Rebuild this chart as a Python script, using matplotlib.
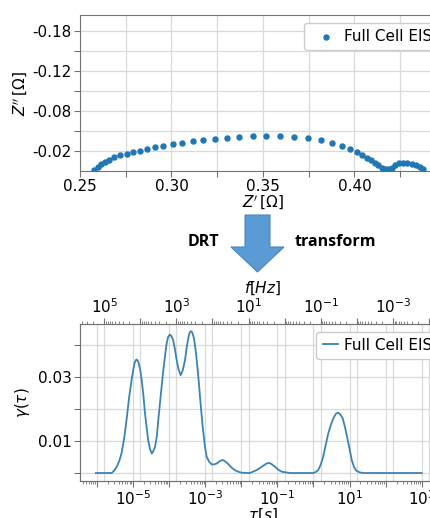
import numpy as np
import matplotlib.pyplot as plt
from matplotlib.patches import FancyArrow
from matplotlib.ticker import FixedLocator, FuncFormatter, LogLocator, NullFormatter

# Nyquist data: Z' and -Z'' [Ohm]
z_re = [0.2578, 0.2597, 0.2615, 0.2637, 0.2661, 0.2688, 0.2721, 0.2756, 0.2792,
        0.2829, 0.2867, 0.2911, 0.2956, 0.3006, 0.3057, 0.3115, 0.3172, 0.3239,
        0.3303, 0.3371, 0.3444, 0.3517, 0.3595, 0.3668, 0.3745, 0.3818, 0.3878,
        0.3933, 0.3976, 0.4015, 0.4042, 0.4066, 0.4088, 0.4110, 0.4130, 0.4148,
        0.4166, 0.4184, 0.4203, 0.4221, 0.4243, 0.4267, 0.4289, 0.4312, 0.4334,
        0.4356, 0.4376]
z_im = [0.0005, 0.0022, 0.0035, 0.0047, 0.0057, 0.0068, 0.0078, 0.0085, 0.0093,
        0.0102, 0.0110, 0.0120, 0.0127, 0.0135, 0.0142, 0.0148, 0.0155, 0.0162,
        0.0167, 0.0172, 0.0173, 0.0175, 0.0173, 0.0170, 0.0163, 0.0153, 0.0140,
        0.0125, 0.0110, 0.0094, 0.0081, 0.0067, 0.0055, 0.0042, 0.0028, 0.0017,
        0.0010, 0.0008, 0.0017, 0.0030, 0.0038, 0.0042, 0.0042, 0.0037, 0.0030,
        0.0022, 0.0010]

# DRT result: log10(tau [s]) and gamma(tau)
log_tau = [-6.03, -5.72, -5.59, -5.52, -5.45, -5.38, -5.32, -5.25, -5.18, -5.11,
           -5.04, -4.99, -4.95, -4.91, -4.87, -4.84, -4.80, -4.76, -4.71, -4.67,
           -4.62, -4.58, -4.53, -4.48, -4.44, -4.39, -4.34, -4.30, -4.23, -4.16,
           -4.11, -4.07, -4.03, -3.98, -3.94, -3.89, -3.84, -3.79, -3.74, -3.68,
           -3.62, -3.56, -3.51, -3.47, -3.44, -3.40, -3.36, -3.31, -3.25, -3.19,
           -3.13, -3.07, -3.01, -2.96, -2.89, -2.82, -2.75, -2.68, -2.60, -2.52,
           -2.44, -2.36, -2.27, -2.18, -2.08, -1.99, -1.76, -1.58, -1.48, -1.39,
           -1.31, -1.24, -1.16, -1.07, -0.97, -0.88, -0.65, -0.01, 0.06, 0.13,
           0.20, 0.27, 0.34, 0.41, 0.48, 0.55, 0.62, 0.68, 0.74, 0.81,
           0.87, 0.93, 1.00, 1.06, 1.12, 1.19, 1.28, 1.38, 3.00]
gamma = [0.0, 0.0, 0.0, 0.0008, 0.0020, 0.0038, 0.0061, 0.0105, 0.0166, 0.0235,
         0.0291, 0.0325, 0.0347, 0.0355, 0.0352, 0.0342, 0.0322, 0.0291, 0.0240, 0.0188,
         0.0140, 0.0103, 0.0075, 0.0061, 0.0068, 0.0082, 0.0115, 0.0166, 0.0245, 0.0322,
         0.0370, 0.0405, 0.0425, 0.0433, 0.0429, 0.0416, 0.0388, 0.0353, 0.0325, 0.0306,
         0.0322, 0.0353, 0.0395, 0.0421, 0.0437, 0.0444, 0.0440, 0.0421, 0.0370, 0.0301,
         0.0220, 0.0145, 0.0085, 0.0051, 0.0035, 0.0027, 0.0027, 0.0030, 0.0037, 0.0041,
         0.0036, 0.0028, 0.0017, 0.0009, 0.0004, 0.0001, 0.0, 0.0009, 0.0016, 0.0023,
         0.0029, 0.0032, 0.0028, 0.0020, 0.0010, 0.0004, 0.0, 0.0, 0.0003, 0.0009,
         0.0026, 0.0051, 0.0088, 0.0124, 0.0150, 0.0171, 0.0185, 0.0189, 0.0184, 0.0171,
         0.0145, 0.0114, 0.0075, 0.0041, 0.0020, 0.0007, 0.0002, 0.0, 0.0]

# tick positions / labels of the Nyquist plot
nyq_xticks = [0.25, 0.275, 0.30, 0.325, 0.35, 0.375, 0.40, 0.425]
nyq_xlabels = ['0.25', '', '0.30', '', '0.35', '', '0.40', '']
nyq_yticks = [0.01, 0.02, 0.03, 0.04, 0.05, 0.06, 0.07]
nyq_ylabels = ['-0.02', '', '-0.08', '', '-0.12', '', '-0.18']

drt_yticks = [0.0, 0.01, 0.02, 0.03, 0.04]
drt_ylabels = ['', '0.01', '', '0.03', '']

plt.rcParams['font.size'] = 11
spine_col = '0.45'
grid_col = '0.85'

fig = plt.figure(figsize=(4.3, 5.18), dpi=100)

# Nyquist plot
ax1 = fig.add_axes([0.186, 0.670, 0.851, 0.301])
ax1.scatter(z_re, z_im, s=13, color='#1f77b4', label='Full Cell EIS', zorder=3)
ax1.set_xlim(0.25, 0.45)
ax1.set_ylim(0, 0.078)
ax1.set_xticks(nyq_xticks)
ax1.set_xticklabels(nyq_xlabels)
ax1.set_yticks(nyq_yticks)
ax1.set_yticklabels(nyq_ylabels)
ax1.grid(True, color=grid_col, lw=0.9)
ax1.set_xlabel(r"$Z'\,$[$\Omega$]", labelpad=0)
ax1.set_ylabel(r"$Z''\,$[$\Omega$]", labelpad=2)
ax1.legend(loc='upper right', fontsize=11, handletextpad=0.2, borderpad=0.4,
           framealpha=1)

# DRT plot
ax2 = fig.add_axes([0.186, 0.0714, 0.851, 0.303])
tau = 10 ** np.array(log_tau)
ax2.plot(tau, gamma, color='#3d82b3', lw=1.3, label='Full Cell EIS')
ax2.set_xscale('log')
xmin, xmax = 10 ** -6.47, 10 ** 3.67
ax2.set_xlim(xmin, xmax)
ax2.set_ylim(-0.0025, 0.0466)
ax2.set_yticks(drt_yticks)
ax2.set_yticklabels(drt_ylabels)


def odd_decade(v, pos):
    k = int(round(np.log10(v)))
    return r'$10^{%d}$' % k if k % 2 else ''


ax2.xaxis.set_major_locator(FixedLocator([10.0 ** k for k in range(-6, 4)]))
ax2.xaxis.set_major_formatter(FuncFormatter(odd_decade))
ax2.xaxis.set_minor_locator(LogLocator(base=10, subs=np.arange(2, 10), numticks=50))
ax2.xaxis.set_minor_formatter(NullFormatter())
ax2.set_xlabel(r'$\tau[s]$', labelpad=-1)
ax2.set_ylabel(r'$\gamma(\tau)$', labelpad=4)

# frequency axis on top, f = 1/(2 pi tau)
ax3 = ax2.twiny()
ax3.set_xscale('log')
ax3.set_xlim(1 / (2 * np.pi * xmin), 1 / (2 * np.pi * xmax))
ax3.xaxis.set_major_locator(FixedLocator([10.0 ** k for k in range(-5, 6)]))
ax3.xaxis.set_major_formatter(FuncFormatter(odd_decade))
ax3.xaxis.set_minor_locator(LogLocator(base=10, subs=np.arange(2, 10), numticks=50))
ax3.xaxis.set_minor_formatter(NullFormatter())
ax3.set_xlabel(r'$f[Hz]$', labelpad=3)
ax3.grid(True, axis='x', color=grid_col, lw=0.9)
ax2.grid(True, color=grid_col, lw=0.9)

# keep the curve and legend above the top-axis grid
ax3.set_zorder(0)
ax2.set_zorder(1)
ax2.patch.set_visible(False)
ax3.patch.set_visible(True)
ax3.patch.set_facecolor('white')
ax2.legend(loc='upper right', fontsize=11, handlelength=1.0, handletextpad=0.4,
           borderpad=0.4, framealpha=1)

for ax in (ax1, ax2, ax3):
    for s in ax.spines.values():
        s.set_color(spine_col)
    ax.tick_params(which='both', color=spine_col, pad=2)
    ax.tick_params(which='major', length=4)
    ax.tick_params(which='minor', length=2)

# DRT arrow between the two plots
fig.patches.append(FancyArrow(2.575, 3.03, 0, -0.57, width=0.25, head_width=0.53,
                              head_length=0.25, length_includes_head=True,
                              transform=fig.dpi_scale_trans,
                              facecolor='#5b9bd5', edgecolor='#4a86bd', lw=0.8))
fig.text(0.474, 0.533, 'DRT', fontsize=11.5, fontweight='bold',
         family='Open Sans', ha='center', va='center')
fig.text(0.781, 0.533, 'transform', fontsize=11.5, fontweight='bold',
         family='Open Sans', ha='center', va='center')

fig.savefig('out.png', dpi=100)
